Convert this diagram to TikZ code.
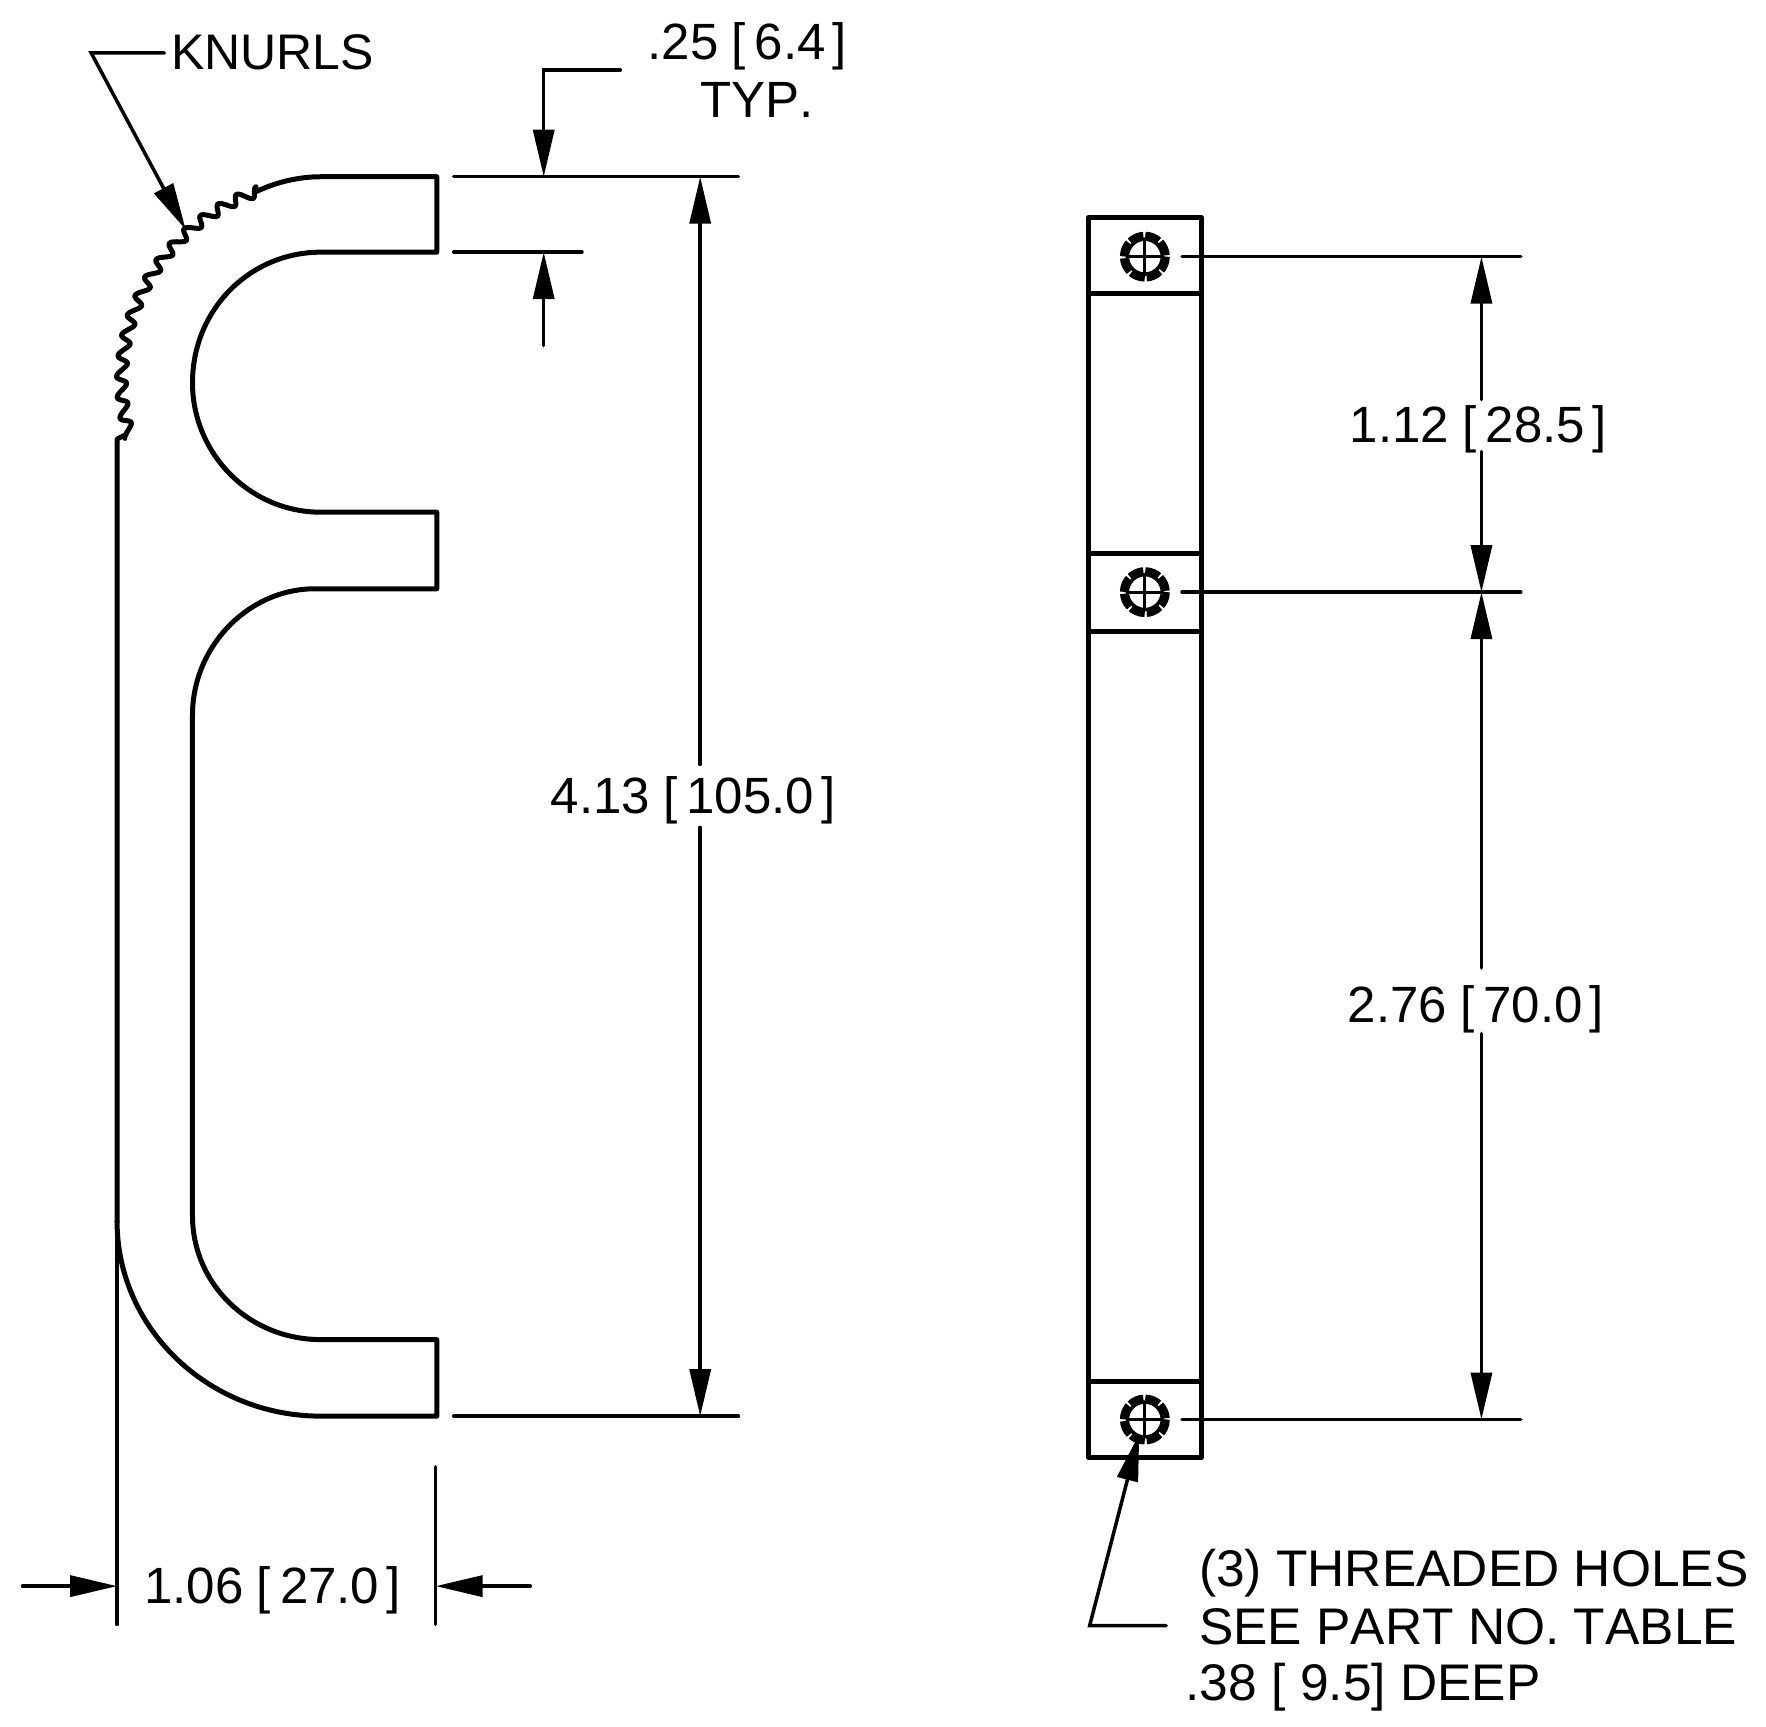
\documentclass[tikz,border=0pt]{standalone}
\usepackage{fontspec}
\setmainfont[Kerning=Off]{Liberation Sans}
\usetikzlibrary{arrows.meta}
\newcommand{\dimtxt}[2]{#1\hspace{.26em}[\hspace{.18em}#2\hspace{.14em}]}
\tikzset{
  outl/.style={line width=5pt,line cap=round,line join=round},
  dimln/.style={line width=3.5pt,line cap=round,line join=miter},
  tip/.style={-{Triangle[length=47pt,width=21pt]}},
  txt/.style={inner sep=0pt,anchor=base west,font=\fontsize{51}{60}\selectfont},
  notetxt/.style={txt,font=\fontsize{51.5}{60}\selectfont},
  hole/.style={line width=3.5pt},
  ring/.style={line width=6pt,dash pattern=on 15.2pt off 2.1pt},
  cross/.style={line width=2.8pt}
}
\begin{document}
\begin{tikzpicture}[x=1.1257pt,y=-1.1257pt,
  declare function={kr(\u)=177+4.5*cos(5400*\u);kt(\u)=196-88*\u+0.45*cos(5400*\u);}]
\useasboundingbox (0,0) rectangle (1568.8,1533.3);
\fill[white] (0,0) rectangle (1568.8,1533.3);
% ---------- left view
\draw[outl] (104,1085) -- (104,390) -- (112,386);
\draw[outl] plot[samples=500,domain=0:1,variable=\u]
  ({285+kr(\u)*cos(kt(\u))},{338-kr(\u)*sin(kt(\u))});
\draw[outl] (228,170) .. controls (245,162) and (265,157) .. (285,157) -- (388,157) -- (388,224) -- (285,224)
  .. controls (222,224) and (171,275) .. (171,340)
  .. controls (171,403) and (222,455) .. (285,455)
  -- (388,455) -- (388,523) -- (280,523)
  .. controls (220,523) and (171,575) .. (171,635)
  -- (171,1080)
  .. controls (171,1141) and (222,1190) .. (285,1190)
  -- (388,1190) -- (388,1258) -- (285,1258)
  .. controls (185,1258) and (104,1180) .. (104,1085);
% extension lines
\coordinate (eTopL) at (403,157); \coordinate (eTopR) at (656,157);
\coordinate (eInL) at (403,224);  \coordinate (eInR) at (517,224);
\coordinate (eBotL) at (403,1258);\coordinate (eBotR) at (656,1258);
\draw[dimln] (eTopL) -- (eTopR);
\draw[dimln] (eInL) -- (eInR);
\draw[dimln] (eBotL) -- (eBotR);
% 4.13 dimension
\node[txt] (d413) at (489,723) {\dimtxt{4.13}{105.0}};
\coordinate (a413t) at (622,157); \coordinate (a413b) at (622,1258);
\coordinate (g413t) at (622,679); \coordinate (g413b) at (622,735);
\draw[dimln,tip] (g413t) -- (a413t);
\draw[dimln,tip] (g413b) -- (a413b);
% .25 dimension
\node[txt] (d25) at (575,53) {\dimtxt{.25}{6.4}};
\node[txt] (typ) at (622,104) {TYP.};
\coordinate (l25a) at (551,62); \coordinate (l25b) at (483,62);
\coordinate (a25t) at (483,157); \coordinate (a25i) at (483,224); \coordinate (l25c) at (483,307);
\draw[dimln,tip] (l25a) -- (l25b) -- (a25t);
\draw[dimln,tip] (l25c) -- (a25i);
% 1.06 dimension
\node[txt] (d106) at (128,1424) {\dimtxt{1.06}{27.0}};
\coordinate (eWl1) at (104,1090); \coordinate (eWl2) at (104,1443);
\coordinate (eWr1) at (387,1303); \coordinate (eWr2) at (387,1443);
\draw[dimln] (eWl1) -- (eWl2);
\draw[dimln] (eWr1) -- (eWr2);
\coordinate (aWl0) at (20,1409); \coordinate (aWl) at (104,1409);
\coordinate (aWr0) at (471,1409); \coordinate (aWr) at (387,1409);
\draw[dimln,tip] (aWl0) -- (aWl);
\draw[dimln,tip] (aWr0) -- (aWr);
% knurls leader
\node[txt,font=\fontsize{50}{60}\selectfont] (kn) at (152,62) {KNURLS};
\coordinate (kl0) at (146,47); \coordinate (kl1) at (81,47); \coordinate (kl2) at (165,204);
\draw[dimln,tip] (kl0) -- (kl1) -- (kl2);
% ---------- right view
\draw[outl] (967,193) rectangle (1067,1295);
\draw[outl] (967,261) -- (1067,261);
\draw[outl] (967,492) -- (1067,492);
\draw[outl] (967,561) -- (1067,561);
\draw[outl] (967,1227) -- (1067,1227);
\foreach \n/\y in {a/228,b/526,c/1261}{
  \coordinate (h\n) at (1017,\y);
  \draw[ring] (h\n) circle[radius=19.5];
  \draw[hole] (h\n) circle[radius=15.5];
  \draw[cross] (1002,\y) -- (1032,\y);
  \draw[cross] (1017,\y-15) -- (1017,\y+15);
}
% right dims
\coordinate (e1a) at (1050,228); \coordinate (e1b) at (1351,228);
\coordinate (e2a) at (1050,526); \coordinate (e2b) at (1351,526);
\coordinate (e3a) at (1050,1261); \coordinate (e3b) at (1351,1261);
\draw[dimln] (e1a) -- (e1b);
\draw[dimln] (e2a) -- (e2b);
\draw[dimln] (e3a) -- (e3b);
\node[txt] (d112) at (1199,393) {\dimtxt{1.12}{28.5}};
\node[txt] (d276) at (1197,908) {\dimtxt{2.76}{70.0}};
\coordinate (r1) at (1316,228); \coordinate (r2) at (1316,526); \coordinate (r3) at (1316,1261);
\coordinate (g1a) at (1316,355); \coordinate (g1b) at (1316,401);
\coordinate (g2a) at (1316,860); \coordinate (g2b) at (1316,918);
\draw[dimln,tip] (g1a) -- (r1);
\draw[dimln,tip] (g1b) -- (r2);
\draw[dimln,tip] (g2a) -- (r2);
\draw[dimln,tip] (g2b) -- (r3);
% note
\node[notetxt] (n1) at (1065,1409) {(3) THREADED HOLES};
\node[notetxt] (n2) at (1065,1461) {SEE PART NO. TABLE};
\node[notetxt] (n3) at (1053,1511) {.38 [ 9.5] DEEP};
\coordinate (nl0) at (1036,1444); \coordinate (nl1) at (968,1444); \coordinate (nl2) at (1012,1274);
\draw[dimln,tip] (nl0) -- (nl1) -- (nl2);
\end{tikzpicture}
\end{document}
